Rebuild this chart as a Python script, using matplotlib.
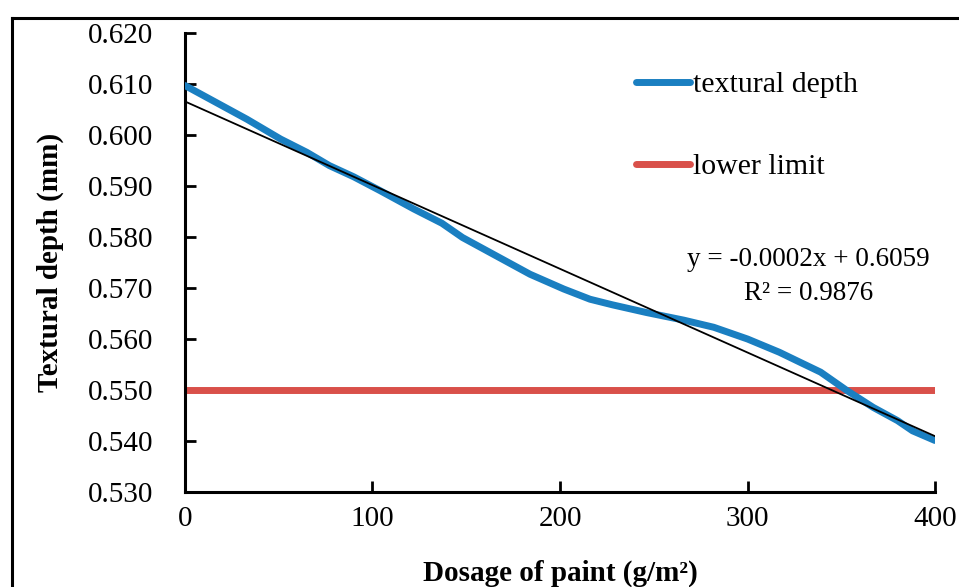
import numpy as np
import matplotlib.pyplot as plt
from matplotlib.lines import Line2D

plt.rcParams['font.family'] = ['Liberation Serif', 'DejaVu Serif']

# Data
dosage = [0, 15, 33, 51, 65, 77, 90, 104, 122, 137, 148, 166, 184, 202, 216,
          228, 246, 266, 282, 300, 317, 326, 339, 353, 367, 380, 388, 400]
depth = [0.6097, 0.6067, 0.6031, 0.5992, 0.5966, 0.5940, 0.5918, 0.5891,
         0.5855, 0.5827, 0.5799, 0.5763, 0.5727, 0.5698, 0.5678, 0.5667,
         0.5652, 0.5637, 0.5623, 0.5600, 0.5574, 0.5558, 0.5535, 0.5499,
         0.5466, 0.5440, 0.5420, 0.5401]
limit_x = [0, 400]
limit_y = [0.550, 0.550]
x_ticks = [0, 100, 200, 300, 400]
y_ticks = [0.530, 0.540, 0.550, 0.560, 0.570, 0.580, 0.590, 0.600, 0.610, 0.620]

fig = plt.figure(figsize=(9.59, 5.87), dpi=100)
ax = fig.add_axes([0.1929, 0.1618, 0.975 - 0.1929, 0.9438 - 0.1618])

ax.plot(dosage, depth, color='#1a7fc1', lw=5, solid_capstyle='round',
        solid_joinstyle='round', label='textural depth', zorder=3)
ax.plot(limit_x, limit_y, color='#d9504a', lw=5, solid_capstyle='round',
        label='lower limit', zorder=2)

# linear trendline
coef = np.polyfit(dosage, depth, 1)
tx = np.array([0, 400])
ax.plot(tx, np.polyval(coef, tx), color='black', lw=1.3, zorder=4)

ax.set_xlim(0, 400)
ax.set_ylim(0.530, 0.620)
ax.set_xticks(x_ticks)
ax.set_yticks(y_ticks)
ax.set_yticklabels([f'{v:.3f}' for v in y_ticks])
ax.tick_params(direction='in', length=8, width=2, labelsize=21)
ax.tick_params(axis='x', pad=10)
ax.tick_params(axis='y', pad=23)
for s in ['top', 'right']:
    ax.spines[s].set_visible(False)
for s in ['left', 'bottom']:
    ax.spines[s].set_linewidth(2.2)

ax.set_xlabel('Dosage of paint (g/m²)', fontsize=21, fontweight='bold', labelpad=20)
ax.set_ylabel('Textural depth (mm)', fontsize=21, fontweight='bold', labelpad=17)

ax.legend(loc='upper left', bbox_to_anchor=(0.601, 0.917), frameon=False,
          fontsize=21.5, handlelength=1.8, handletextpad=0.12, labelspacing=1.85,
          borderpad=0, borderaxespad=0)

ax.text(0.831, 0.469, 'y = -0.0002x + 0.6059\nR² = 0.9876', transform=ax.transAxes,
        ha='center', va='center', fontsize=19.5, linespacing=1.5)

# outer frame (top and left edges visible)
fig.add_artist(Line2D([12 / 959, 12 / 959], [0, 1 - 18 / 587], color='black', lw=2.2))
fig.add_artist(Line2D([12 / 959, 1], [1 - 18 / 587, 1 - 18 / 587], color='black', lw=2.2))

fig.savefig('out.png', dpi=100)
